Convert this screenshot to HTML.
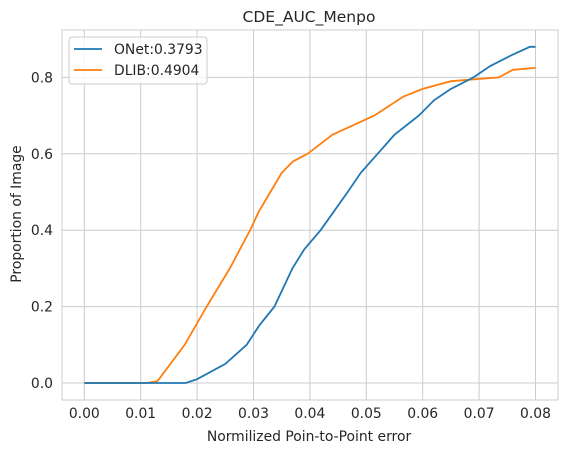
<!DOCTYPE html>
<html><head><meta charset="utf-8"><style>
body{margin:0;background:#fff;font-family:"Liberation Sans","DejaVu Sans",sans-serif}
svg text{font-family:"DejaVu Sans","Liberation Sans",sans-serif;fill:#262626}
</style></head><body>
<svg id="chart" width="567" height="453" xmlns="http://www.w3.org/2000/svg">
<g id="grid"></g><g id="marks"></g><g id="axes"></g>
</svg>
<script>
const xTicks=[0,0.01,0.02,0.03,0.04,0.05,0.06,0.07,0.08];
const xTickLabels=["0.00","0.01","0.02","0.03","0.04","0.05","0.06","0.07","0.08"];
const yTicks=[0,0.2,0.4,0.6,0.8];
const yTickLabels=["0.0","0.2","0.4","0.6","0.8"];
const onetX=[0,0.018,0.020,0.025,0.0288,0.031,0.0337,0.0369,0.039,0.0419,0.0467,0.049,0.052,0.055,0.0593,0.062,0.065,0.069,0.072,0.076,0.079,0.08];
const onetY=[0,0,0.01,0.05,0.10,0.15,0.20,0.30,0.35,0.40,0.50,0.55,0.60,0.65,0.70,0.74,0.77,0.80,0.83,0.86,0.88,0.88];
const dlibX=[0,0.011,0.013,0.0178,0.0217,0.0258,0.0294,0.031,0.033,0.035,0.037,0.0396,0.044,0.0514,0.0566,0.060,0.065,0.0735,0.076,0.08];
const dlibY=[0,0,0.005,0.10,0.20,0.30,0.40,0.45,0.50,0.55,0.58,0.60,0.65,0.70,0.75,0.77,0.79,0.80,0.82,0.825];
const NS="http://www.w3.org/2000/svg";
const L=62,R=558,T=30,B=400;
const FS=13.9;
const xs=v=>84.3+v/0.01*56.4;
const ys=v=>383-v/0.1*38.2;
function mk(tag,attrs,parent,text){const e=document.createElementNS(NS,tag);for(const k in attrs)e.setAttribute(k,attrs[k]);if(text!==undefined)e.textContent=text;document.getElementById(parent).appendChild(e);return e;}
xTicks.forEach((t,i)=>{
 const g=mk('line',{x1:xs(t),x2:xs(t),y1:T,y2:B,stroke:'#cccccc','stroke-width':1},'grid');
 
 
 const l=mk('text',{x:xs(t),y:B+18,'text-anchor':'middle','font-size':FS},'axes',xTickLabels[i]);
 
 
});
yTicks.forEach((t,i)=>{
 const g=mk('line',{x1:L,x2:R,y1:ys(t),y2:ys(t),stroke:'#cccccc','stroke-width':1},'grid');
 
 
 const l=mk('text',{x:L-9,y:ys(t)+5,'text-anchor':'end','font-size':FS},'axes',yTickLabels[i]);
 
 
});
const fr=mk('rect',{x:L,y:T,width:R-L,height:B-T,fill:'none',stroke:'#cccccc','stroke-width':1},'axes');


function line(xa,ya,color,name){
 const d=xa.map((x,i)=>(i?'L':'M')+xs(x).toFixed(1)+','+ys(ya[i]).toFixed(1)).join(' ');
 const p=mk('path',{d:d,fill:'none',stroke:color,'stroke-width':1.8},'marks');
 
 
}
line(dlibX,dlibY,'#ff7f0e','dlib-line');
line(onetX,onetY,'#1f77b4','onet-line');
const t1=mk('text',{x:309,y:22,'text-anchor':'middle','font-size':15.5},'axes','CDE_AUC_Menpo');


const t2=mk('text',{x:309,y:441,'text-anchor':'middle','font-size':FS},'axes','Normilized Poin-to-Point error');


const t3=mk('text',{x:21,y:214,'text-anchor':'middle','font-size':FS,transform:'rotate(-90 21 214)'},'axes','Proportion of Image');


const lg=mk('rect',{x:69,y:37,width:138,height:47,rx:3,fill:'#fff','fill-opacity':0.8,stroke:'#cccccc'},'axes');


[['ONet:0.3793','#1f77b4',49],['DLIB:0.4904','#ff7f0e',70]].forEach(([txt,c,y])=>{
 const s=mk('line',{x1:74,x2:102,y1:y,y2:y,stroke:c,'stroke-width':1.8},'axes');
 
 
 const t=mk('text',{x:114,y:y+5,'font-size':FS},'axes',txt);
 
 
});
</script>
</body></html>
